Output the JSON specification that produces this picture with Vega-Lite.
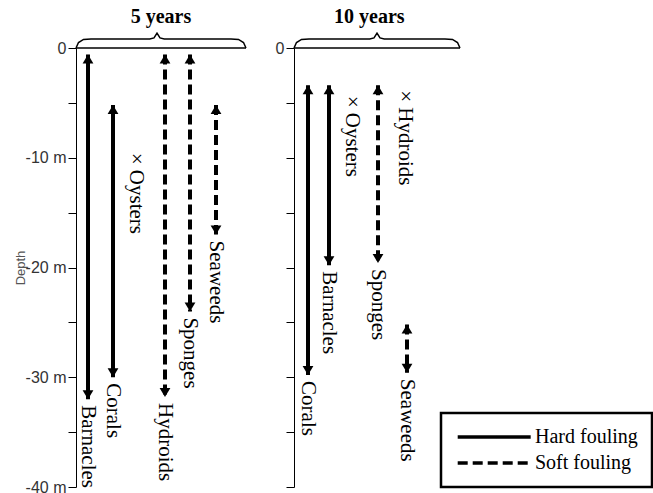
{
  "$schema": "https://vega.github.io/schema/vega-lite/v6.json",
  "padding": {"left": 14, "top": 7, "right": 0, "bottom": 0},
  "bounds": "flush",
  "spacing": 48,
  "background": "white",
  "resolve": {"scale": {"strokeDash": "independent", "x": "independent", "y": "independent"}, "legend": {"strokeDash": "independent"}},
  "config": {
    "view": {"stroke": null},
    "legend": {"strokeWidth": 2.5}
  },
  "datasets": {
    "arrows": [
      {"panel": "5 years", "name": "Barnacles", "type": "Hard fouling", "col": 0.48, "top": -0.6, "bottom": -32},
      {"panel": "5 years", "name": "Corals", "type": "Hard fouling", "col": 1.48, "top": -5.2, "bottom": -30},
      {"panel": "5 years", "name": "Hydroids", "type": "Soft fouling", "col": 3.56, "top": -0.6, "bottom": -31.8},
      {"panel": "5 years", "name": "Sponges", "type": "Soft fouling", "col": 4.56, "top": -0.6, "bottom": -24},
      {"panel": "5 years", "name": "Seaweeds", "type": "Soft fouling", "col": 5.6, "top": -5.2, "bottom": -17},
      {"panel": "10 years", "name": "Corals", "type": "Hard fouling", "col": 0.56, "top": -3.4, "bottom": -29.8},
      {"panel": "10 years", "name": "Barnacles", "type": "Hard fouling", "col": 1.4, "top": -3.4, "bottom": -19.8},
      {"panel": "10 years", "name": "Sponges", "type": "Soft fouling", "col": 3.36, "top": -3.4, "bottom": -19.6},
      {"panel": "10 years", "name": "Seaweeds", "type": "Soft fouling", "col": 4.52, "top": -25.2, "bottom": -29.6}
    ],
    "markers": [
      {"panel": "5 years", "name": "Oysters", "label": "× Oysters", "col": 2.4, "at": -10},
      {"panel": "10 years", "name": "Oysters", "label": "× Oysters", "col": 2.32, "at": -4.8},
      {"panel": "10 years", "name": "Hydroids", "label": "× Hydroids", "col": 4.44, "at": -4.3}
    ],
    "brace": [
      {"panel": "5 years", "seg": "brace", "ord": 1, "x": 0, "y": 0},
      {"panel": "5 years", "seg": "brace", "ord": 2, "x": 0.1, "y": 0.5},
      {"panel": "5 years", "seg": "brace", "ord": 3, "x": 0.3, "y": 0.78},
      {"panel": "5 years", "seg": "brace", "ord": 4, "x": 0.6, "y": 0.82},
      {"panel": "5 years", "seg": "brace", "ord": 5, "x": 2.95, "y": 0.82},
      {"panel": "5 years", "seg": "brace", "ord": 6, "x": 3.12, "y": 0.92},
      {"panel": "5 years", "seg": "brace", "ord": 7, "x": 3.24, "y": 1.35},
      {"panel": "5 years", "seg": "brace", "ord": 8, "x": 3.36, "y": 0.92},
      {"panel": "5 years", "seg": "brace", "ord": 9, "x": 3.53, "y": 0.82},
      {"panel": "5 years", "seg": "brace", "ord": 10, "x": 6.2, "y": 0.82},
      {"panel": "5 years", "seg": "brace", "ord": 11, "x": 6.5, "y": 0.78},
      {"panel": "5 years", "seg": "brace", "ord": 12, "x": 6.7, "y": 0.5},
      {"panel": "5 years", "seg": "brace", "ord": 13, "x": 6.8, "y": 0},
      {"panel": "5 years", "seg": "base", "ord": 1, "x": 0, "y": 0},
      {"panel": "5 years", "seg": "base", "ord": 2, "x": 6.8, "y": 0},
      {"panel": "10 years", "seg": "brace", "ord": 1, "x": 0, "y": 0},
      {"panel": "10 years", "seg": "brace", "ord": 2, "x": 0.1, "y": 0.5},
      {"panel": "10 years", "seg": "brace", "ord": 3, "x": 0.3, "y": 0.78},
      {"panel": "10 years", "seg": "brace", "ord": 4, "x": 0.6, "y": 0.82},
      {"panel": "10 years", "seg": "brace", "ord": 5, "x": 3.03, "y": 0.82},
      {"panel": "10 years", "seg": "brace", "ord": 6, "x": 3.2, "y": 0.92},
      {"panel": "10 years", "seg": "brace", "ord": 7, "x": 3.32, "y": 1.35},
      {"panel": "10 years", "seg": "brace", "ord": 8, "x": 3.44, "y": 0.92},
      {"panel": "10 years", "seg": "brace", "ord": 9, "x": 3.61, "y": 0.82},
      {"panel": "10 years", "seg": "brace", "ord": 10, "x": 6.04, "y": 0.82},
      {"panel": "10 years", "seg": "brace", "ord": 11, "x": 6.34, "y": 0.78},
      {"panel": "10 years", "seg": "brace", "ord": 12, "x": 6.54, "y": 0.5},
      {"panel": "10 years", "seg": "brace", "ord": 13, "x": 6.64, "y": 0},
      {"panel": "10 years", "seg": "base", "ord": 1, "x": 0, "y": 0},
      {"panel": "10 years", "seg": "base", "ord": 2, "x": 6.64, "y": 0}
    ]
  },
  "hconcat": [
    {
      "width": 170,
      "height": 439,
      "title": {"text": "5 years", "font": "Liberation Serif", "fontSize": 20, "fontWeight": "bold", "color": "black", "anchor": "middle", "frame": "group", "offset": 3},
      "layer": [
        {
          "data": {"name": "arrows"},
          "transform": [{"filter": "datum.panel == '5 years'"}],
          "mark": {"type": "rule", "strokeWidth": 4, "color": "black"},
          "encoding": {
            "x": {"field": "col", "type": "quantitative", "scale": {"domain": [0, 6.8], "nice": false, "zero": false}, "axis": null},
            "y": {"field": "top", "type": "quantitative", "title": "Depth", "scale": {"domain": [-40, 0], "nice": false, "zero": false},
              "axis": {"values": [0, -5, -10, -15, -20, -25, -30, -35, -40], "labelExpr": "datum.value == 0 ? '0' : (datum.value % 10 == 0 ? datum.value + ' m' : '')", "labelFont": "Liberation Sans", "labelFontSize": 16, "labelColor": "#333", "labelFlush": false, "labelOverlap": false, "labelBound": false, "labelPadding": 2, "tickSize": 8, "tickColor": "black", "domainColor": "black", "grid": false, "titleFont": "Liberation Sans", "titleFontSize": 13, "titleFontWeight": "normal", "titleColor": "#555", "titlePadding": -2}},
            "y2": {"field": "bottom"},
            "strokeDash": {"field": "type", "type": "nominal", "scale": {"domain": ["Hard fouling", "Soft fouling"], "range": [[1, 0], [10, 5]]}, "legend": null}
          }
        },
        {
          "data": {"name": "arrows"},
          "transform": [{"filter": "datum.panel == '5 years'"}],
          "mark": {"type": "point", "shape": "M0,0L-0.6,1L0.6,1Z", "filled": true, "size": 324, "color": "black", "opacity": 1},
          "encoding": {
            "x": {"field": "col", "type": "quantitative"},
            "y": {"field": "top", "type": "quantitative", "title": "Depth"}
          }
        },
        {
          "data": {"name": "arrows"},
          "transform": [{"filter": "datum.panel == '5 years'"}],
          "mark": {"type": "point", "shape": "M0,0L-0.6,-1L0.6,-1Z", "filled": true, "size": 324, "color": "black", "opacity": 1},
          "encoding": {
            "x": {"field": "col", "type": "quantitative"},
            "y": {"field": "bottom", "type": "quantitative", "title": "Depth"}
          }
        },
        {
          "data": {"name": "arrows"},
          "transform": [{"filter": "datum.panel == '5 years'"}],
          "mark": {"type": "text", "angle": 90, "align": "left", "baseline": "middle", "dx": 6, "font": "Liberation Serif", "fontSize": 21, "color": "black"},
          "encoding": {
            "x": {"field": "col", "type": "quantitative"},
            "y": {"field": "bottom", "type": "quantitative", "title": "Depth"},
            "text": {"field": "name"}
          }
        },
        {
          "data": {"name": "markers"},
          "transform": [{"filter": "datum.panel == '5 years'"}],
          "mark": {"type": "text", "angle": 90, "align": "left", "baseline": "middle", "dx": -5, "font": "Liberation Serif", "fontSize": 21, "color": "black"},
          "encoding": {
            "x": {"field": "col", "type": "quantitative"},
            "y": {"field": "at", "type": "quantitative", "title": "Depth"},
            "text": {"field": "label"}
          }
        },
        {
          "data": {"name": "brace"},
          "transform": [{"filter": "datum.panel == '5 years'"}],
          "mark": {"type": "line", "color": "black", "strokeWidth": 1.5, "clip": false},
          "encoding": {
            "x": {"field": "x", "type": "quantitative"},
            "y": {"field": "y", "type": "quantitative", "title": "Depth"},
            "detail": {"field": "seg"},
            "order": {"field": "ord", "type": "quantitative"}
          }
        }
      ]
    },
    {
      "width": 358,
      "height": 439,
      "title": {"text": "10 years", "font": "Liberation Serif", "fontSize": 20, "fontWeight": "bold", "color": "black", "anchor": "start", "dx": 40, "frame": "group", "offset": 3},
      "layer": [
        {
          "data": {"name": "arrows"},
          "transform": [{"filter": "datum.panel == '10 years'"}],
          "mark": {"type": "rule", "strokeWidth": 4, "color": "black"},
          "encoding": {
            "x": {"field": "col", "type": "quantitative", "scale": {"domain": [0, 14.32], "nice": false, "zero": false}, "axis": null},
            "y": {"field": "top", "type": "quantitative", "title": null, "scale": {"domain": [-40, 0], "nice": false, "zero": false},
              "axis": {"values": [0, -5, -10, -15, -20, -25, -30, -35, -40], "labelExpr": "datum.value == 0 ? '0' : ''", "labelFont": "Liberation Sans", "labelFontSize": 16, "labelColor": "#333", "labelFlush": false, "labelOverlap": false, "labelBound": false, "labelPadding": 2, "tickSize": 8, "tickColor": "black", "domainColor": "black", "grid": false}},
            "y2": {"field": "bottom"},
            "strokeDash": {"field": "type", "type": "nominal", "scale": {"domain": ["Hard fouling", "Soft fouling"], "range": [[1, 0], [10, 5]]},
              "legend": {"orient": "bottom-right", "title": null, "offset": 0, "symbolType": "M-1,0L9,0", "symbolSize": 213, "symbolStrokeWidth": 3.5, "symbolStrokeColor": "black", "labelFont": "Liberation Serif", "labelFontSize": 20, "labelColor": "black", "labelOffset": 60, "strokeColor": "black", "fillColor": "white", "padding": 14, "rowPadding": 6,
                "encode": {"symbols": {"update": {"strokeDash": {"signal": "datum.value == 'Soft fouling' ? [17, 8] : [1, 0]"}}}}}}
          }
        },
        {
          "data": {"name": "arrows"},
          "transform": [{"filter": "datum.panel == '10 years'"}],
          "mark": {"type": "point", "shape": "M0,0L-0.6,1L0.6,1Z", "filled": true, "size": 324, "color": "black", "opacity": 1},
          "encoding": {
            "x": {"field": "col", "type": "quantitative"},
            "y": {"field": "top", "type": "quantitative", "title": null}
          }
        },
        {
          "data": {"name": "arrows"},
          "transform": [{"filter": "datum.panel == '10 years'"}],
          "mark": {"type": "point", "shape": "M0,0L-0.6,-1L0.6,-1Z", "filled": true, "size": 324, "color": "black", "opacity": 1},
          "encoding": {
            "x": {"field": "col", "type": "quantitative"},
            "y": {"field": "bottom", "type": "quantitative", "title": null}
          }
        },
        {
          "data": {"name": "arrows"},
          "transform": [{"filter": "datum.panel == '10 years'"}],
          "mark": {"type": "text", "angle": 90, "align": "left", "baseline": "middle", "dx": 6, "font": "Liberation Serif", "fontSize": 21, "color": "black"},
          "encoding": {
            "x": {"field": "col", "type": "quantitative"},
            "y": {"field": "bottom", "type": "quantitative", "title": null},
            "text": {"field": "name"}
          }
        },
        {
          "data": {"name": "markers"},
          "transform": [{"filter": "datum.panel == '10 years'"}],
          "mark": {"type": "text", "angle": 90, "align": "left", "baseline": "middle", "dx": -5, "font": "Liberation Serif", "fontSize": 21, "color": "black"},
          "encoding": {
            "x": {"field": "col", "type": "quantitative"},
            "y": {"field": "at", "type": "quantitative", "title": null},
            "text": {"field": "label"}
          }
        },
        {
          "data": {"name": "brace"},
          "transform": [{"filter": "datum.panel == '10 years'"}],
          "mark": {"type": "line", "color": "black", "strokeWidth": 1.5, "clip": false},
          "encoding": {
            "x": {"field": "x", "type": "quantitative"},
            "y": {"field": "y", "type": "quantitative", "title": null},
            "detail": {"field": "seg"},
            "order": {"field": "ord", "type": "quantitative"}
          }
        }
      ]
    }
  ]
}
